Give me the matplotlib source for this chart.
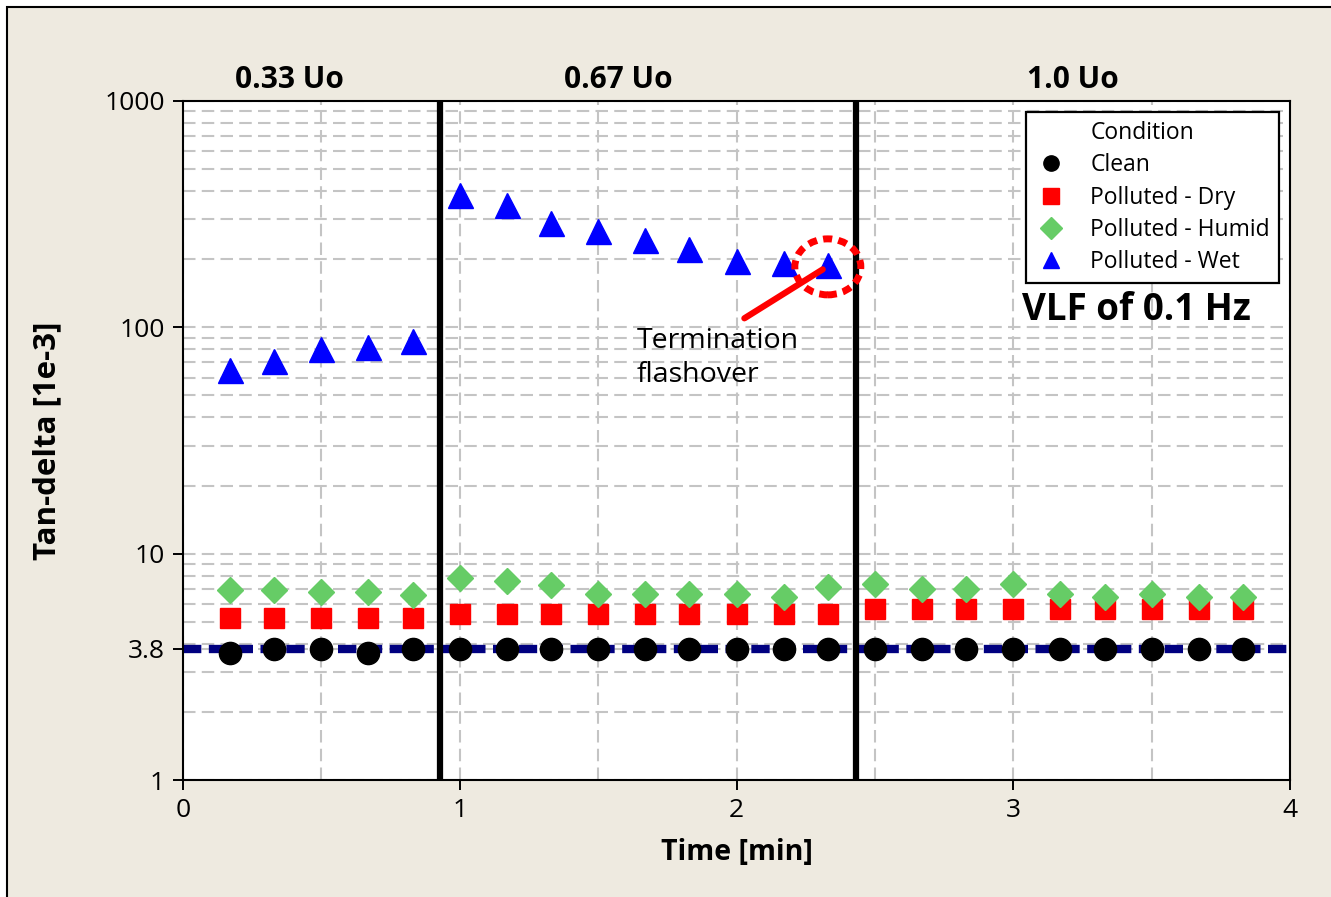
import numpy as np
import matplotlib.pyplot as plt
from matplotlib.lines import Line2D
from matplotlib.patches import Ellipse, Rectangle
from matplotlib.transforms import ScaledTranslation

plt.rcParams['font.family'] = ['Open Sans', 'DejaVu Sans']

# time stamps [min]
times = [0.17, 0.33, 0.5, 0.67, 0.83, 1.0, 1.17, 1.33, 1.5, 1.67, 1.83, 2.0,
         2.17, 2.33, 2.5, 2.67, 2.83, 3.0, 3.17, 3.33, 3.5, 3.67, 3.83]

# tan-delta [1e-3]
clean = [3.65, 3.78, 3.78, 3.65, 3.78, 3.78, 3.78, 3.78, 3.78, 3.78, 3.78, 3.78,
         3.78, 3.78, 3.78, 3.78, 3.78, 3.78, 3.78, 3.78, 3.78, 3.78, 3.78]
dry = [5.2, 5.2, 5.2, 5.2, 5.2, 5.4, 5.4, 5.4, 5.4, 5.4, 5.4, 5.4,
       5.4, 5.4, 5.7, 5.7, 5.7, 5.7, 5.7, 5.7, 5.7, 5.7, 5.7]
humid = [6.9, 6.9, 6.75, 6.75, 6.55, 7.8, 7.6, 7.27, 6.63, 6.63, 6.63, 6.63,
         6.44, 7.12, 7.35, 6.98, 6.98, 7.35, 6.63, 6.44, 6.63, 6.44, 6.44]
wet = [64.8, 71, 80, 82, 87, 384, 347, 289, 267, 243, 222, 196, 192, 188]

reference_level = 3.8
step_changes = [0.93, 2.43]
step_labels = ['0.33 Uo', '0.67 Uo', '1.0 Uo']
step_label_x = [0.383, 1.572, 3.216]
y_ticks = [1, 3.8, 10, 100, 1000]
y_tick_labels = ['1', '3.8', '10', '100', '1000']
x_ticks = [0, 1, 2, 3, 4]

fig = plt.figure(figsize=(13.31, 8.97), dpi=100)
fig.patch.set_facecolor('white')
bg = Rectangle((7 / 1331, -0.05), 1.1, 1 - 7 / 897 + 0.05, transform=fig.transFigure,
               facecolor='#EEEAE0', edgecolor='black', linewidth=1.5, zorder=-10)
fig.add_artist(bg)

ax = fig.add_axes([183 / 1331, 1 - 780 / 897, 1107 / 1331, 679 / 897])
ax.set_facecolor('white')
ax.set_yscale('log')
ax.set_xlim(0, 4)
ax.set_ylim(1, 1000)

# grid
ax.set_xticks(x_ticks)
ax.set_xticks([0.5, 1.5, 2.5, 3.5], minor=True)
ax.set_yticks(y_ticks)
ax.set_yticklabels(y_tick_labels)
ax.grid(which='both', color='#C4C4C4', linestyle=(0, (6, 3)), linewidth=1.5, zorder=0)
ax.set_axisbelow(True)
ax.tick_params(which='major', direction='out', length=7, width=1.4,
               labelsize=19, pad=6, colors='black')
ax.tick_params(which='minor', length=0)
for s in ax.spines.values():
    s.set_linewidth(1.5)
    s.set_color('black')

# reference level
ax.axhline(reference_level, color='#000080', linewidth=6, linestyle=(0, (2.2, 0.9)), zorder=2)

# voltage step boundaries
for xc in step_changes:
    ax.axvline(xc, color='black', linewidth=4.5, zorder=3)
for lab, xl in zip(step_labels, step_label_x):
    ax.text(xl, 1.031, lab, transform=ax.get_xaxis_transform(), ha='center', va='center',
            fontsize=21.5, fontweight='bold')

ax.plot(times, clean, 'o', color='black', markersize=16, label='Clean', zorder=4)
ax.plot(times, dry, 's', color='#FF0000', markersize=14.5, label='Polluted - Dry', zorder=4)
ax.plot(times, humid, 'D', color='#66CC66', markersize=13, label='Polluted - Humid', zorder=4)
ax.plot(times[:len(wet)], wet, '^', color='#0000FF', markersize=18, label='Polluted - Wet', zorder=4)

# flashover mark
circ = Ellipse((0, 0), 0.66, 0.56, fill=False, edgecolor='#FF0000', linewidth=5,
               linestyle=(0, (1.3, 0.9)), zorder=6,
               transform=fig.dpi_scale_trans + ScaledTranslation(times[13], 185, ax.transData))
ax.add_patch(circ)
ax.annotate('', xy=(2.32, 183), xytext=(2.02, 108),
            arrowprops=dict(arrowstyle='-', color='#FF0000', linewidth=4.5), zorder=6)
ax.text(1.638, 100, 'Termination\nflashover', fontsize=20.5, ha='left', va='top', linespacing=1.25)

ax.text(3.03, 119, 'VLF of 0.1 Hz', fontsize=26.5, fontweight='bold', ha='left', va='center')

handles, labels = ax.get_legend_handles_labels()
title_handle = Line2D([], [], linestyle='none')
leg = ax.legend([title_handle] + handles, ['Condition'] + labels,
                loc='upper right', bbox_to_anchor=(0.990, 0.984), borderaxespad=0,
                fontsize=16.5, fancybox=False, framealpha=1, edgecolor='black',
                handletextpad=1.0, labelspacing=0.36, borderpad=0.4, handlelength=1.4)
leg.get_frame().set_linewidth(1.6)
for h in leg.legend_handles[1:]:
    h.set_markersize(11)

ax.set_ylabel('Tan-delta [1e-3]', fontsize=22.5, fontweight='bold')
ax.yaxis.set_label_coords(-0.109, 0.5)
ax.set_xlabel('Time [min]', fontsize=20.5, fontweight='bold')
ax.xaxis.set_label_coords(0.5, -0.085)

fig.savefig('out.png', dpi=100)
